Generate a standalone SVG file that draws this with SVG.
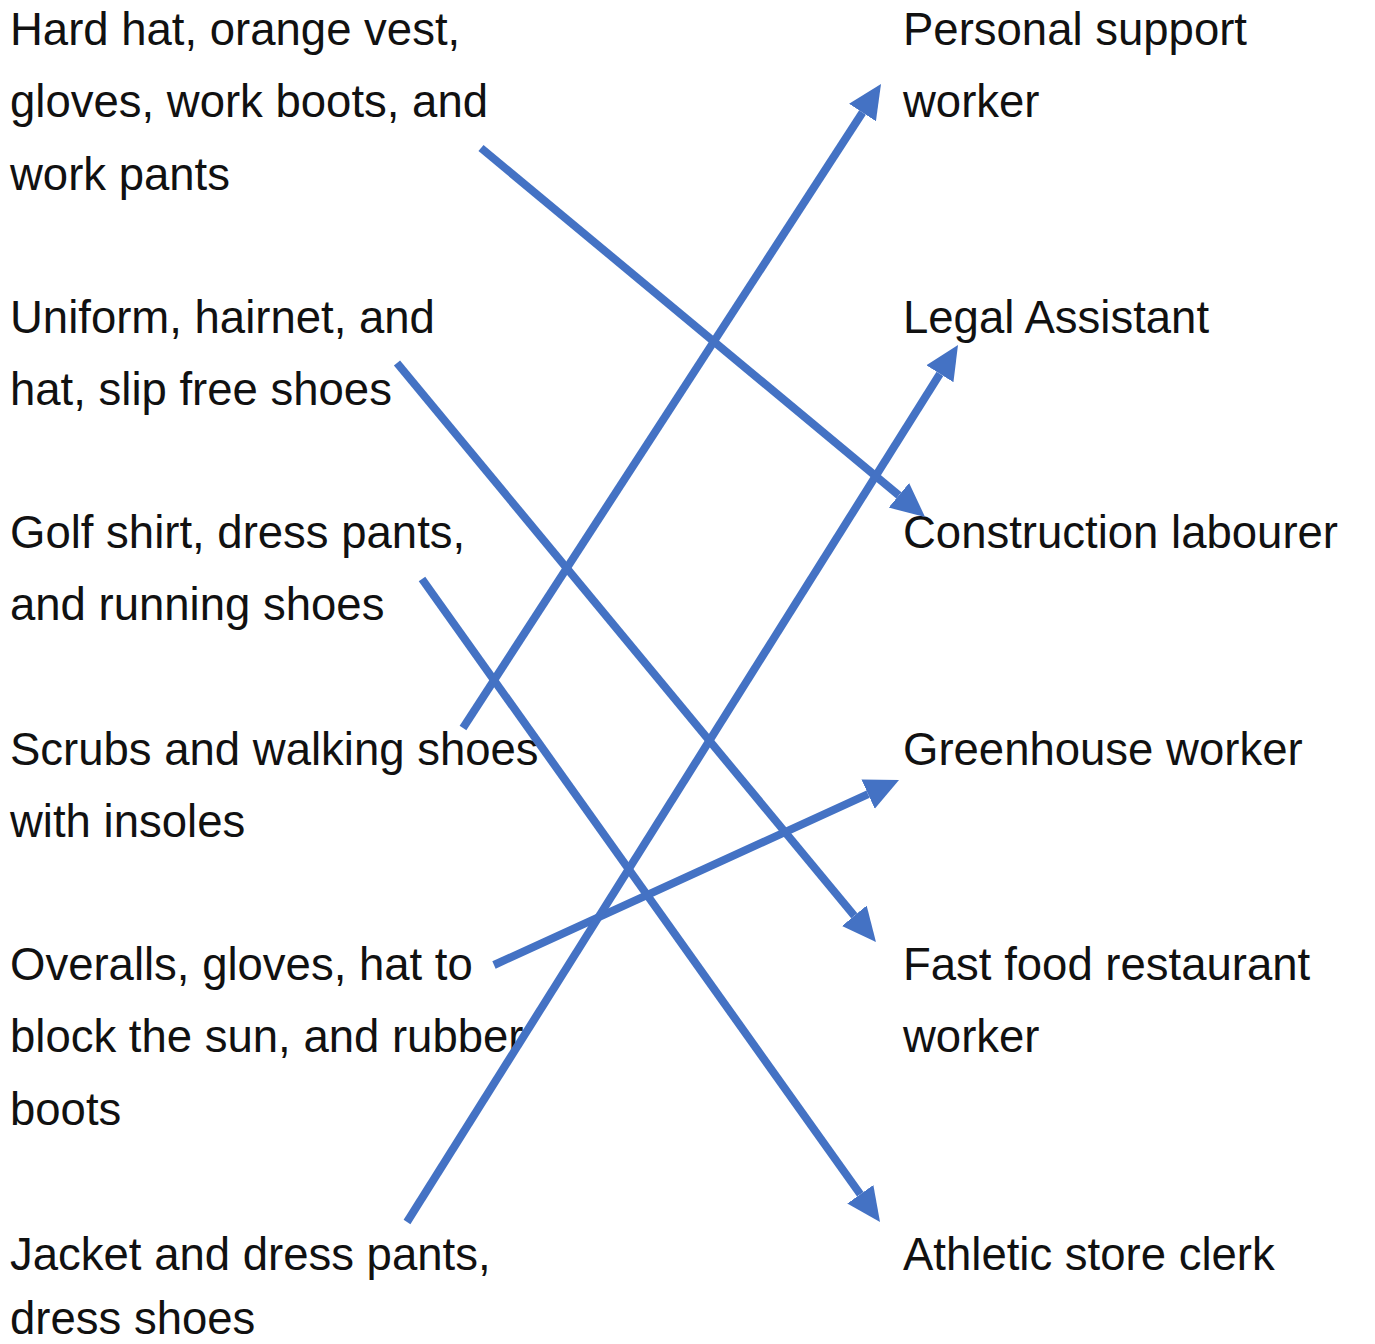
<svg xmlns="http://www.w3.org/2000/svg" width="1375" height="1344" viewBox="0 0 1375 1344">
<style>
.t{font-family:"Liberation Sans",Arial,sans-serif;font-size:45.5px;fill:#111}
.c{stroke:#4472C4;stroke-width:8;fill:none;marker-end:url(#ah)}
</style>
<defs>
<marker id="ah" markerUnits="userSpaceOnUse" markerWidth="40" markerHeight="40" viewBox="0 -20 40 40" refX="0" refY="0" orient="auto">
<path d="M0,-16 L34,0 L0,16 Z" fill="#4472C4"/>
</marker>
</defs>
<rect width="1375" height="1344" fill="#fff"/>
<g id="left-1"><text class="t" x="10" y="45">Hard hat, orange vest,</text><text class="t" x="10" y="117">gloves, work boots, and</text><text class="t" x="10" y="190">work pants</text></g>
<g id="left-2"><text class="t" x="10" y="333">Uniform, hairnet, and</text><text class="t" x="10" y="405">hat, slip free shoes</text></g>
<g id="left-3"><text class="t" x="10" y="548">Golf shirt, dress pants,</text><text class="t" x="10" y="620">and running shoes</text></g>
<g id="left-4"><text class="t" x="10" y="765">Scrubs and walking shoes</text><text class="t" x="10" y="837">with insoles</text></g>
<g id="left-5"><text class="t" x="10" y="980">Overalls, gloves, hat to</text><text class="t" x="10" y="1052">block the sun, and rubber</text><text class="t" x="10" y="1125">boots</text></g>
<g id="left-6"><text class="t" x="10" y="1270">Jacket and dress pants,</text><text class="t" x="10" y="1334">dress shoes</text></g>
<g id="right-1"><text class="t" x="903" y="45">Personal support</text><text class="t" x="903" y="117">worker</text></g>
<g id="right-2"><text class="t" x="903" y="333">Legal Assistant</text></g>
<g id="right-3"><text class="t" x="903" y="548">Construction labourer</text></g>
<g id="right-4"><text class="t" x="903" y="765">Greenhouse worker</text></g>
<g id="right-5"><text class="t" x="903" y="980">Fast food restaurant</text><text class="t" x="903" y="1052">worker</text></g>
<g id="right-6"><text class="t" x="903" y="1270">Athletic store clerk</text></g>
<g id="connectors">
<line class="c" x1="481" y1="148" x2="898.9" y2="495.3"/>
<line class="c" x1="397" y1="363" x2="854.3" y2="915.8"/>
<line class="c" x1="422" y1="579" x2="860.3" y2="1194.3"/>
<line class="c" x1="463" y1="728" x2="862.5" y2="112.5"/>
<line class="c" x1="494" y1="965" x2="868.1" y2="794.1"/>
<line class="c" x1="407" y1="1222" x2="939.9" y2="373.8"/>
</g>
</svg>
